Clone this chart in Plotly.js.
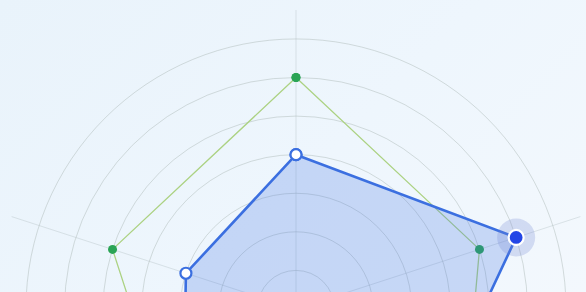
<!DOCTYPE html>
<html>
<head>
<meta charset="utf-8">
<script src="https://cdn.plot.ly/plotly-3.0.1.min.js"></script>
<style>
  html, body { margin: 0; padding: 0; width: 586px; height: 292px; overflow: hidden;
    background: linear-gradient(135deg, #e9f3fb 0%, #eef6fd 55%, #f3f8fd 100%); font-family: "Noto Sans", sans-serif; }
  #chart { position: absolute; left: -14px; top: 0; width: 620px; height: 628px; }
</style>
</head>
<body>
<div id="chart"></div>
<script>
// Categories, clockwise from the top
const categories = ['Speed', 'Power', 'Range', 'Defense', 'Skill'];
// Series values
const seriesBlue = [4, 6, 5, 5, 3];
const seriesGreen = [6, 5, 7, 5, 5];
// Highlighted point of the blue series
const highlightIndex = 1;
// Radial axis settings
const radialMax = 7.75;
const radialStep = 1;

function closed(arr) { return arr.concat([arr[0]]); }

const traces = [
  {
    type: 'scatterpolar',
    r: closed(seriesGreen),
    theta: closed(categories),
    mode: 'lines+markers',
    line: { color: '#acd283', width: 1.3 },
    marker: { color: '#2aa455', size: 9, line: { width: 0 } },
    hoverinfo: 'skip',
    showlegend: false
  },
  {
    type: 'scatterpolar',
    r: closed(seriesBlue),
    theta: closed(categories),
    mode: 'lines+markers',
    fill: 'toself',
    fillcolor: 'rgba(64,112,226,0.24)',
    line: { color: '#3b6fe0', width: 2.6 },
    marker: { color: '#ffffff', size: 11, line: { color: '#3b6fe0', width: 2.2 } },
    hoverinfo: 'skip',
    showlegend: false
  },
  {
    type: 'scatterpolar',
    r: [seriesBlue[highlightIndex]],
    theta: [categories[highlightIndex]],
    mode: 'markers',
    marker: { color: 'rgba(110,130,210,0.25)', size: 38, line: { width: 0 } },
    hoverinfo: 'skip',
    showlegend: false
  },
  {
    type: 'scatterpolar',
    r: [seriesBlue[highlightIndex]],
    theta: [categories[highlightIndex]],
    mode: 'markers',
    marker: { color: '#2446e6', size: 15, line: { color: '#ffffff', width: 2.2 } },
    hoverinfo: 'skip',
    showlegend: false
  }
];

const layout = {
  width: 620,
  height: 628,
  margin: { l: 11, r: 11, t: 10, b: 20 },
  paper_bgcolor: 'rgba(0,0,0,0)',
  plot_bgcolor: 'rgba(0,0,0,0)',
  showlegend: false,
  hovermode: false,
  polar: {
    bgcolor: 'rgba(0,0,0,0)',
    domain: { x: [0, 1], y: [0, 1] },
    radialaxis: {
      range: [0, radialMax],
      dtick: radialStep,
      tick0: 0,
      showticklabels: false,
      ticks: '',
      showline: false,
      gridcolor: 'rgba(175,188,185,0.5)',
      gridwidth: 1
    },
    angularaxis: {
      direction: 'clockwise',
      rotation: 90,
      showticklabels: false,
      ticks: '',
      showline: false,
      gridcolor: 'rgba(192,204,208,0.5)',
      gridwidth: 1
    }
  }
};

Plotly.newPlot('chart', traces, layout, { displayModeBar: false, staticPlot: true });
</script>
</body>
</html>
